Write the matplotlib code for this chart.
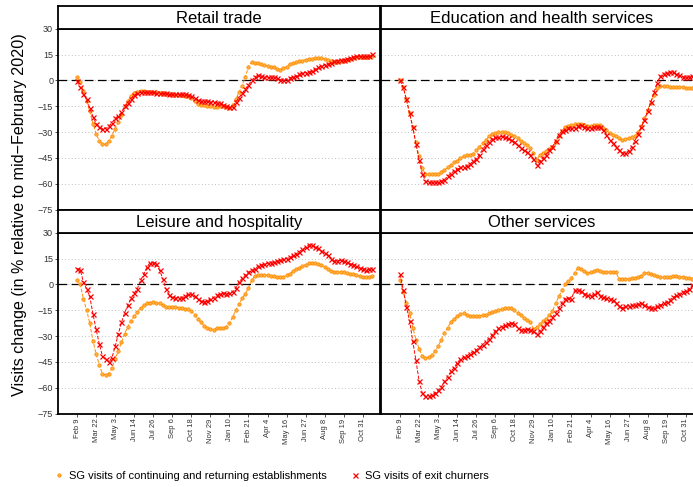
import matplotlib
matplotlib.use("Agg")
import matplotlib.pyplot as plt
from matplotlib.lines import Line2D
import pandas as pd

plt.rcParams['font.family'] = ['Liberation Sans', 'DejaVu Sans']

# weekly observations, first week Feb 9 2020
weeks = pd.date_range('2020-02-09', periods=94, freq='7D')
tick_dates = pd.date_range('2020-02-09', periods=16, freq='42D')
tick_labels = [f"{d:%b} {d.day}" for d in tick_dates]

panel_titles = ["Retail trade", "Education and health services",
                "Leisure and hospitality", "Other services"]
series_labels = ["SG visits of continuing and returning establishments",
                 "SG visits of exit churners"]

retail_cont = [1.8, -1, -6, -12, -18, -25, -31, -35, -37, -37,
               -35, -32, -28, -24, -20, -15, -12, -9, -7.5, -6.5,
               -6, -6, -6.5, -6.5, -7, -7, -7.5, -7.5, -8, -8,
               -8, -8.5, -8.5, -8.5, -9, -9, -10, -12, -13.5, -14,
               -14.5, -15, -15, -15.5, -15.5, -15, -15, -15.5, -16, -14,
               -11, -7, -3, 2, 8, 10.5, 10, 10, 9.5, 9,
               8.5, 8, 7.5, 6.5, 6, 7, 8, 9.5, 10, 10.5,
               11, 11.5, 12, 12.5, 12.5, 13, 13, 13, 12.5, 12,
               11, 10.5, 10.5, 11, 11.5, 12, 12.5, 13, 13.5, 13.5,
               13.5, 13.5, 13.5, 14]
retail_exit = [-0.5, -4, -8, -11, -16, -21, -25, -27, -28, -28,
               -26.5, -24.5, -22, -20.5, -18.5, -15, -13, -10.5, -8.5, -7.5,
               -7, -7, -7, -7, -7, -7.5, -7.5, -7.5, -7.5, -8,
               -8, -8, -8, -8, -8, -8.5, -9, -10, -11.5, -12,
               -12, -12, -12.5, -12.5, -13, -13, -14, -15, -15.5, -15.5,
               -12.5, -10, -7.5, -5, -2.5, 0, 2, 3, 2.5, 2,
               2, 2, 2, 1.5, 0.5, 0, 0.5, 1.5, 2, 2.5,
               3.5, 4.5, 4.5, 5, 5.5, 6.5, 7.5, 8.5, 9, 9.5,
               10, 11, 11.5, 12, 12, 12.5, 13, 13.5, 14, 14,
               14, 14, 14, 15.5]

educ_cont = [0, -4, -11, -19, -27, -36, -44, -51, -54.5, -54.5,
             -54.5, -54.5, -54, -53, -52, -50.5, -49, -47.5, -46.5, -45,
             -44, -43, -43, -42.5, -40.5, -38.5, -36.5, -34.5, -32.5, -31,
             -30.5, -30, -30, -30, -30.5, -31.5, -32, -33.5, -35, -36.5,
             -37.5, -39, -42, -46, -43.5, -42, -41, -40, -38.5, -35.5,
             -32.5, -29.5, -27, -26.5, -26, -25.5, -25, -25, -26, -26.5,
             -26.5, -26, -26, -26, -27.5, -29, -30.5, -31.5, -32.5, -33.5,
             -34.5, -34, -33.5, -33, -32.5, -30, -26.5, -22, -17, -13,
             -8.5, -4.5, -3.5, -3.5, -3.5, -4, -4, -4, -4, -4,
             -4.5, -4.5, -4.5, -4.5]
educ_exit = [0, -4, -11, -19, -27, -37, -46, -54, -58.5, -59,
             -59, -59, -59, -58.5, -57.5, -55.5, -54, -52.5, -51.5, -50.5,
             -50, -49.5, -48.5, -47, -45.5, -43, -40, -37.5, -35.5, -34,
             -33, -33, -32.5, -33, -33.5, -34.5, -35.5, -37.5, -39, -40.5,
             -41.5, -43, -45.5, -49, -47, -45, -43, -40.5, -38.5, -35,
             -31.5, -29.5, -28.5, -27.5, -27.5, -27.5, -26.5, -26, -27, -27.5,
             -27.5, -27, -27, -27, -29, -31.5, -34.5, -36.5, -38.5, -40.5,
             -42, -42, -41, -38.5, -35, -31, -27, -23, -18, -12.5,
             -7, -1.5, 2.5, 4, 4.5, 5, 5, 4, 3, 2.2,
             2, 2, 2.5, 2.5]

leis_cont = [2.8, 0, -8.3, -14.7, -22.5, -32.6, -40.4, -46.6, -52, -52.4,
             -51.7, -48.6, -43, -38.8, -33.5, -28.5, -24.5, -21, -18.5, -16,
             -13.5, -12, -11, -10.5, -10.2, -10.5, -11, -12, -13, -13.2,
             -13.2, -13.2, -13.5, -13.7, -14, -14.5, -15.5, -17.5, -20, -22,
             -23.9, -25, -25.7, -26.2, -25.5, -25.2, -25.2, -24.5, -22.5, -19,
             -15, -11.5, -8, -5.4, -1.9, 2.3, 4.9, 5.5, 5.7, 5.5,
             5.3, 5, 4.7, 4.5, 4.3, 4.5, 5.5, 6.3, 7.5, 8.7,
             9.8, 10.8, 11.5, 12.5, 12.5, 12.5, 12, 11.2, 10.2, 8.8,
             7.8, 7, 7, 7.2, 7, 6.6, 6.3, 6, 5.5, 4.8,
             4.5, 4.3, 4.5, 4.9]
leis_exit = [9.2, 8.6, 1.4, -2.5, -7, -17, -26, -34.5, -41.5, -43.5,
             -45, -42.5, -36, -28.7, -22, -16.5, -12, -8, -5, -2.5,
             2.3, 5.8, 10, 12.7, 12.7, 12, 8.2, 3.4, -2.5, -6,
             -7.5, -7.7, -7.7, -7.7, -7, -5.5, -5.5, -7, -8.3, -9.7,
             -10.2, -9.5, -8.5, -7.7, -6.4, -5.5, -5, -5.4, -5.2, -4.5,
             -2, 1.4, 3.5, 5.3, 7.2, 8.2, 9, 10.5, 11.3, 11.8,
             12.3, 12.7, 13.2, 13.6, 14, 14.5, 15, 15.7, 16.8, 17.8,
             19, 20.4, 21.5, 23, 23, 21.7, 21, 19.5, 18.5, 17,
             15, 13.7, 13.8, 14, 13.5, 13, 12, 11.5, 10.8, 9.8,
             9.2, 8.6, 8.8, 9.2]

other_cont = [2.4, -4.5, -10.5, -16.5, -25, -32, -37.5, -41.5, -42.8, -42.3,
              -41, -38.5, -36, -32, -28, -25.2, -21.6, -20, -18.5, -17,
              -16.8, -17.5, -18.6, -18.6, -18.5, -18.3, -18, -17.6, -16.8, -16.2,
              -15.6, -15, -14.3, -13.9, -13.6, -13.6, -14.8, -16.5, -18, -19.3,
              -20.5, -22, -25.8, -24.9, -23.2, -21.5, -20, -18, -15.5, -11,
              -7, -3.5, 0, 2, 3.8, 6.5, 9.8, 8.8, 7.5, 6.7,
              7, 7.8, 8.6, 8, 7.4, 7.2, 7.2, 7.2, 7, 3,
              2.9, 3, 3.3, 3.6, 3.9, 4.4, 5, 6.9, 6.8, 6,
              5.3, 4.6, 4.3, 4.3, 4.3, 4.4, 4.6, 4.7, 4.5, 4.3,
              4, 3.7, 3.4, 3.2]
other_exit = [5.9, -3.1, -13, -21, -33, -44, -56, -63, -65, -65,
              -64.3, -63, -61.5, -59.5, -56.3, -53.5, -50.5, -48.3, -45.5, -43.3,
              -42.3, -41.5, -40.2, -39, -38, -36.5, -35, -33.2, -31.5, -29.3,
              -27, -25.5, -24.5, -23.7, -23, -22.5, -22.8, -25, -26.4, -26.4,
              -25.8, -26.3, -27.3, -28.5, -27, -24.5, -22.5, -21, -19, -16.5,
              -13.5, -10.5, -8.3, -8, -8.2, -3.5, -3.1, -4, -5.4, -6.3,
              -7, -5.5, -4.6, -6.5, -7.5, -8, -8.3, -9, -10.5, -12.5,
              -13.5, -12.8, -12.4, -12.2, -12, -11.5, -10.8, -11.8, -13, -13.6,
              -13.4, -12.8, -12, -11, -10, -8.8, -7.5, -6.4, -5.3, -4.5,
              -3.8, -2.8, -0.5, 1]

panels = [(retail_cont, retail_exit), (educ_cont, educ_exit),
          (leis_cont, leis_exit), (other_cont, other_exit)]

ORANGE = '#FF8C00'
RED = '#FF0000'
W, H = 693, 487

fig = plt.figure(figsize=(W / 100, H / 100), dpi=100)

# pixel layout (left, top) of each panel; right column runs past the image edge
lefts = [58, 381, 58, 381]
tops = [28.7, 28.7, 232.7, 232.7]
pw, ph, sh = 322, 181, 22.7

xmin = weeks[0] - pd.Timedelta(days=42)
xmax = weeks[0] + pd.Timedelta(days=668)

for k, (cont, exit_) in enumerate(panels):
    l, t = lefts[k], tops[k]
    ax = fig.add_axes([l / W, (H - t - ph) / H, pw / W, ph / H])
    ax.plot(weeks, cont, color=ORANGE, lw=0.7, ls='--', marker='o', ms=2.4,
            mfc='#FFB347', mec=ORANGE, mew=0.6, zorder=3)
    ax.plot(weeks, exit_, color=RED, lw=0.7, ls='--', marker='x', ms=3.6,
            mew=0.9, zorder=4)
    ax.axhline(0, color='black', lw=0.9, dashes=(7, 3.5), zorder=2)
    ax.set_ylim(-75, 30)
    ax.set_xlim(xmin, xmax)
    ax.set_yticks([-75, -60, -45, -30, -15, 0, 15, 30])
    ax.set_xticks(tick_dates)
    ax.set_xticklabels(tick_labels, rotation=90)
    ax.yaxis.grid(True, linestyle=(0, (1, 3)), color='#AAAAAA', lw=0.6)
    ax.set_axisbelow(True)
    for s in ax.spines.values():
        s.set_linewidth(1.3)
    ax.tick_params(axis='x', labelsize=5.5)
    ax.tick_params(axis='y', labelsize=6.5)
    ax.tick_params(length=2, width=0.6, colors='#333333',
                   labelcolor='#333333', pad=1.5)
    if k % 2 == 1:
        ax.tick_params(axis='y', left=False, labelleft=False)
    if k < 2:
        ax.tick_params(axis='x', bottom=False, labelbottom=False)

    # facet strip
    st = fig.add_axes([l / W, (H - t) / H, pw / W, sh / H])
    st.set_xticks([])
    st.set_yticks([])
    for s in st.spines.values():
        s.set_linewidth(1.3)
    st.text(0.5, 0.47, panel_titles[k], ha='center', va='center', fontsize=12,
            transform=st.transAxes)

fig.text(20 / W, (H - 214.5) / H, "Visits change (in % relative to mid\u2212February 2020)",
         rotation=90, ha='center', va='center', fontsize=11.6)

handles = [Line2D([], [], ls='none', marker='o', ms=2.4, mfc='#FFB347', mec=ORANGE, mew=0.6),
           Line2D([], [], ls='none', marker='x', ms=3.6, color=RED, mew=0.9)]
fig.legend(handles, series_labels, loc='center', bbox_to_anchor=(271 / W, 11.3 / H),
           ncol=2, frameon=False, fontsize=8, handletextpad=0.4,
           columnspacing=2.05, handlelength=1.0)

fig.savefig("out.png", dpi=100)
